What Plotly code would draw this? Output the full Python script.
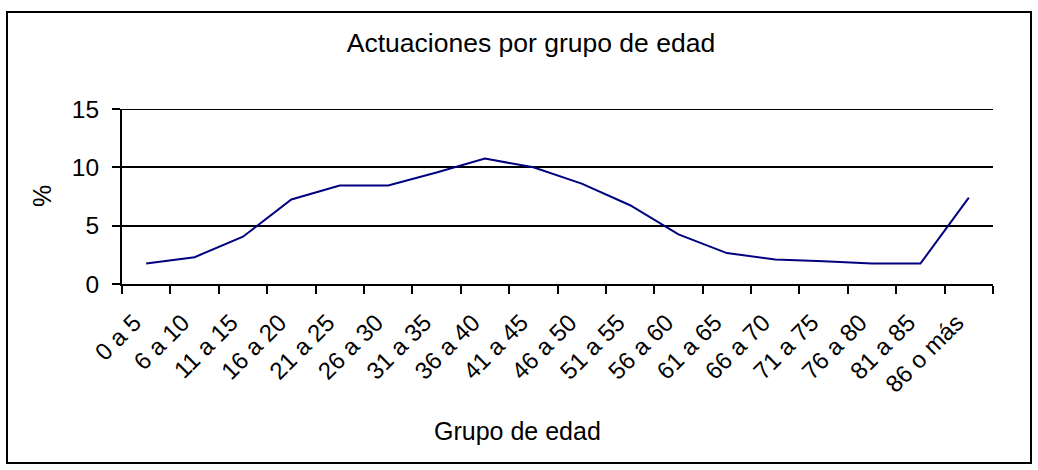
import plotly.graph_objects as go

grupos = ["0 a 5", "6 a 10", "11 a 15", "16 a 20", "21 a 25", "26 a 30",
          "31 a 35", "36 a 40", "41 a 45", "46 a 50", "51 a 55", "56 a 60",
          "61 a 65", "66 a 70", "71 a 75", "76 a 80", "81 a 85", "86 o más"]
porcentaje = [1.75, 2.3, 4.05, 7.25, 8.45, 8.45, 9.55, 10.75, 10.0, 8.6,
              6.75, 4.25, 2.65, 2.1, 1.95, 1.75, 1.75, 7.4]

W, H = 1038, 470
L, R, T, B = 122, 45, 109, 186
pw, ph = W - L - R, H - T - B

def px_x(p):
    return (p - L) / pw

def px_y(p):
    return (H - B - p) / ph

font = "Liberation Sans, Arial, sans-serif"

fig = go.Figure()

fig.add_trace(go.Scatter(
    x=grupos, y=porcentaje,
    mode="lines",
    line=dict(color="#000080", width=2),
    showlegend=False,
    hoverinfo="x+y",
))

fig.update_layout(
    width=W, height=H,
    margin=dict(l=L, r=R, t=T, b=B),
    paper_bgcolor="white",
    plot_bgcolor="white",
    font=dict(family=font, size=25, color="black"),
    title=dict(
        text="Actuaciones por grupo de edad",
        font=dict(size=26.5),
        x=531 / W, xanchor="center", xref="container",
        y=1 - 43 / H, yanchor="middle", yref="container",
    ),
    xaxis=dict(
        type="category",
        range=[-0.5, len(grupos) - 0.5],
        tickson="boundaries",
        ticks="outside", ticklen=8, tickwidth=2, tickcolor="black",
        tickangle=-45,
        ticklabelstandoff=13,
        ticklabelshift=-12,
        showline=True, linecolor="black", linewidth=2,
        showgrid=False,
        tickfont=dict(size=24),
    ),
    yaxis=dict(
        range=[0, 15], dtick=5,
        ticks="outside", ticklen=8, tickwidth=2, tickcolor="black",
        ticklabelstandoff=8,
        showline=True, linecolor="black", linewidth=2,
        showgrid=True, gridcolor="black", gridwidth=2,
        zeroline=False,
        tickfont=dict(size=24.5),
    ),
    annotations=[
        dict(text="%", textangle=-90, showarrow=False,
             xref="paper", yref="paper", x=px_x(42), y=px_y(196),
             xanchor="center", yanchor="middle", font=dict(size=25)),
        dict(text="Grupo de edad", showarrow=False,
             xref="paper", yref="paper", x=px_x(517), y=px_y(431),
             xanchor="center", yanchor="middle", font=dict(size=25)),
    ],
    shapes=[
        dict(type="rect", xref="paper", yref="paper",
             x0=px_x(7), x1=px_x(1031), y0=px_y(463), y1=px_y(12),
             line=dict(color="black", width=2), layer="below"),
        # top gridline at 15 (plotly skips the grid line at the range edge)
        dict(type="line", xref="paper", yref="y", x0=0, x1=1, y0=15, y1=15,
             line=dict(color="black", width=2), layer="below"),
    ],
)

fig.write_html("out.html", config={"displayModeBar": False},
               post_script="document.body.style.margin='0';")
